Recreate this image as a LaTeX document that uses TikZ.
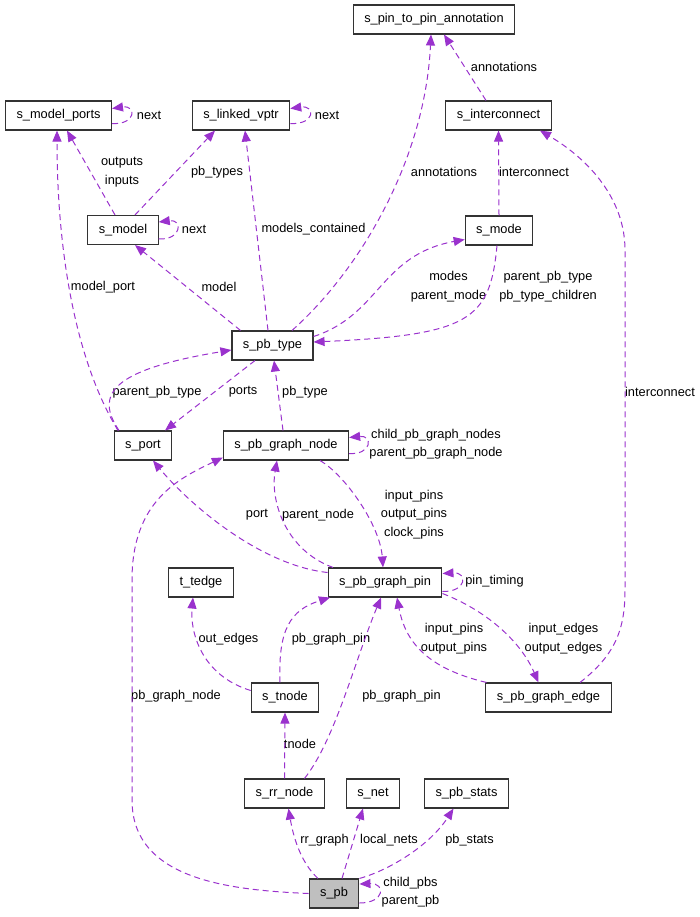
\documentclass[tikz,border=0pt]{standalone}
\usepackage{fontspec}
\setmainfont{Liberation Sans}
\usetikzlibrary{arrows.meta}
\definecolor{edgecol}{HTML}{9A32CD}
\definecolor{pbgrey}{HTML}{BFBFBF}

\begin{document}
\begin{tikzpicture}[x=1pt, y=-1pt,
        cls/.style={rectangle, draw=black!80, line width=1.1pt, fill=white, minimum height=29pt, inner xsep=11pt, inner ysep=0pt, font=\fontsize{12.8}{15}\selectfont},
        rel/.style={draw=edgecol, line width=1pt, dash pattern=on 6pt off 4pt, -{Triangle[length=11pt, width=9pt]}},
        lbl/.style={inner sep=0pt, align=center, font=\fontsize{12.8}{18.5}\selectfont}]
        \useasboundingbox (0,0) rectangle (700,917);

        \node[cls] (pin_ann) at (434,19.5) {s\_pin\_to\_pin\_annotation};
        \node[cls] (mod_ports) at (58.5,115.5) {s\_model\_ports};
        \node[cls] (lvptr) at (241,115.5) {s\_linked\_vptr};
        \node[cls] (iconn) at (498.5,115.5) {s\_interconnect};
        \node[cls] (model) at (123,230) {s\_model};
        \node[cls] (mode) at (499,230.5) {s\_mode};
        \node[cls] (pb_type) at (272.5,345.5) {s\_pb\_type};
        \node[cls] (port) at (143,445.5) {s\_port};
        \node[cls] (pbg_node) at (286,445.5) {s\_pb\_graph\_node};
        \node[cls] (tedge) at (201,582.5) {t\_tedge};
        \node[cls] (pbg_pin) at (385,582.5) {s\_pb\_graph\_pin};
        \node[cls] (tnode) at (285,697.5) {s\_tnode};
        \node[cls] (pbg_edge) at (548.5,697.5) {s\_pb\_graph\_edge};
        \node[cls] (rr_node) at (284.5,793.5) {s\_rr\_node};
        \node[cls] (net) at (373,793.5) {s\_net};
        \node[cls] (pb_stats) at (466.5,793.5) {s\_pb\_stats};
        \node[cls, fill=pbgrey] (pb) at (334,893.5) {s\_pb};

        \node[lbl] (L_next_mp) at (149,115) {next};
        \node[lbl] (L_next_lv) at (327,115) {next};
        \node[lbl] (L_next_m) at (194,229) {next};
        \node[lbl] (L_inout) at (122,172) {outputs\\inputs};
        \node[lbl] (L_pb_types) at (217,172) {pb\_types};
        \node[lbl] (L_ann_t) at (444,172) {annotations};
        \node[lbl] (L_ann_i) at (504,67) {annotations};
        \node[lbl] (L_iconn_m) at (534,172) {interconnect};
        \node[lbl] (L_contained) at (313.5,229) {models\_contained};
        \node[lbl] (L_model) at (219,287) {model};
        \node[lbl] (L_model_port) at (103,287) {model\_port};
        \node[lbl] (L_modes) at (448.5,286.5) {modes\\parent\_mode};
        \node[lbl] (L_children) at (548,286.5) {parent\_pb\_type\\pb\_type\_children};
        \node[lbl] (L_parent_t) at (157,392) {parent\_pb\_type};
        \node[lbl] (L_ports) at (243,392) {ports};
        \node[lbl] (L_pb_type) at (305,392) {pb\_type};
        \node[lbl] (L_iconn_e) at (660,392) {interconnect};
        \node[lbl] (L_gnodes) at (436,444) {child\_pb\_graph\_nodes\\parent\_pb\_graph\_node};
        \node[lbl] (L_port) at (257,515) {port};
        \node[lbl] (L_parent_n) at (318,515) {parent\_node};
        \node[lbl] (L_pins) at (414,514.5) {input\_pins\\output\_pins\\clock\_pins};
        \node[lbl] (L_timing) at (494.5,581) {pin\_timing};
        \node[lbl] (L_io_pins) at (454,638.5) {input\_pins\\output\_pins};
        \node[lbl] (L_io_edges) at (563.5,638.5) {input\_edges\\output\_edges};
        \node[lbl] (L_out_edges) at (228.5,639) {out\_edges};
        \node[lbl] (L_gpin_t) at (331,639) {pb\_graph\_pin};
        \node[lbl] (L_gnode) at (176,696) {pb\_graph\_node};
        \node[lbl] (L_gpin_r) at (401.5,696) {pb\_graph\_pin};
        \node[lbl] (L_tnode) at (300,744) {tnode};
        \node[lbl] (L_rr_graph) at (324.5,840) {rr\_graph};
        \node[lbl] (L_nets) at (389,840) {local\_nets};
        \node[lbl] (L_stats) at (469.5,840) {pb\_stats};
        \node[lbl] (L_pbs) at (410.5,892) {child\_pbs\\parent\_pb};

        \draw[rel] ([yshift=-8pt]mod_ports.east) .. controls (136,125) and (137,105) .. ([yshift=7pt]mod_ports.east);
        \draw[rel] ([yshift=-8pt]lvptr.east) .. controls (315,125) and (316,105) .. ([yshift=7pt]lvptr.east);
        \draw[rel] ([yshift=-9pt]model.east) .. controls (182,240) and (183,219) .. ([yshift=8pt]model.east);
        \draw[rel] ([xshift=-8pt]model.north) -- ([xshift=8.5pt]mod_ports.south);
        \draw[rel] ([xshift=12pt]model.north) -- ([xshift=-26pt]lvptr.south);
        \draw[rel] ([xshift=-25pt]port.north) .. controls (75,360) and (57,250) .. ([xshift=-1.5pt]mod_ports.south);
        \draw[rel] ([xshift=-32pt]pb_type.north) -- ([xshift=12pt]model.south);
        \draw[rel] ([xshift=-4.5pt]pb_type.north) -- ([xshift=4pt]lvptr.south);
        \draw[rel] ([xshift=19.5pt]pb_type.north) .. controls (360,270) and (425,160) .. ([xshift=-3pt]pin_ann.south);
        \draw[rel] ([xshift=-12.5pt]iconn.north) -- ([xshift=10pt]pin_ann.south);
        \draw[rel] (mode.north) -- (iconn.south);
        \draw[rel] ([yshift=9pt]pb_type.east) .. controls (380,315) and (380,255) .. ([yshift=-9pt]mode.west);
        \draw[rel] ([xshift=-2pt]mode.south) .. controls (490,320) and (470,335) .. ([yshift=3.5pt]pb_type.east);
        \draw[rel] ([xshift=31.5pt]pbg_edge.north) .. controls (615,655) and (625,630) .. (625,590) -- (625,250) .. controls (625,200) and (590,160) .. ([xshift=41.5pt]iconn.south);
        \draw[rel] ([xshift=-24pt]port.north) .. controls (95,395) and (110,370) .. ([yshift=-4.5pt]pb_type.west);
        \draw[rel] ([xshift=-17.5pt]pb_type.south) -- ([xshift=22pt]port.north);
        \draw[rel] ([xshift=-3pt]pbg_node.north) -- ([xshift=1.5pt]pb_type.south);
        \draw[rel] ([yshift=-8pt]pbg_node.east) .. controls (372,455) and (373,435) .. ([yshift=8pt]pbg_node.east);
        \draw[rel] ([yshift=10pt]pbg_pin.west) .. controls (260,565) and (190,505) .. ([xshift=10pt]port.south);
        \draw[rel] ([xshift=-52pt]pbg_pin.north) .. controls (285,550) and (270,500) .. ([xshift=-9pt]pbg_node.south);
        \draw[rel] ([xshift=34pt]pbg_node.south) .. controls (345,475) and (380,525) .. ([xshift=-2pt]pbg_pin.north);
        \draw[rel] ([yshift=-9pt]pbg_pin.east) .. controls (467,592) and (468,572) .. ([yshift=9pt]pbg_pin.east);
        \draw[rel] ([yshift=-11pt]pbg_pin.east) .. controls (485,610) and (520,640) .. ([xshift=-10pt]pbg_edge.north);
        \draw[rel] ([xshift=-62pt]pbg_edge.north) .. controls (425,668) and (405,640) .. ([xshift=12pt]pbg_pin.south);
        \draw[rel] ([yshift=7pt]tnode.west) .. controls (200,675) and (190,630) .. ([xshift=-8pt]tedge.south);
        \draw[rel] ([xshift=-5pt]tnode.north) .. controls (278,630) and (290,610) .. ([xshift=-55pt]pbg_pin.south);
        \draw[rel] (rr_node.north) -- (tnode.south);
        \draw[rel] ([xshift=20pt]rr_node.north) .. controls (335,740) and (355,660) .. ([xshift=-4pt]pbg_pin.south);
        \draw[rel] ([xshift=-16pt]pb.north) .. controls (300,862) and (293,835) .. ([xshift=4pt]rr_node.south);
        \draw[rel] ([xshift=8pt]pb.north) -- ([xshift=-10pt]net.south);
        \draw[rel] (pb.north east) .. controls (390,870) and (430,845) .. ([xshift=-13pt]pb_stats.south);
        \draw[rel] ([yshift=-9.5pt]pb.east) .. controls (385,903) and (386,883) .. ([yshift=9.5pt]pb.east);
        \draw[rel] (pb.west) .. controls (230,890) and (132,880) .. (132,800) -- (132,580) .. controls (132,500) and (180,478) .. ([yshift=-12pt]pbg_node.west);
\end{tikzpicture}
\end{document}
